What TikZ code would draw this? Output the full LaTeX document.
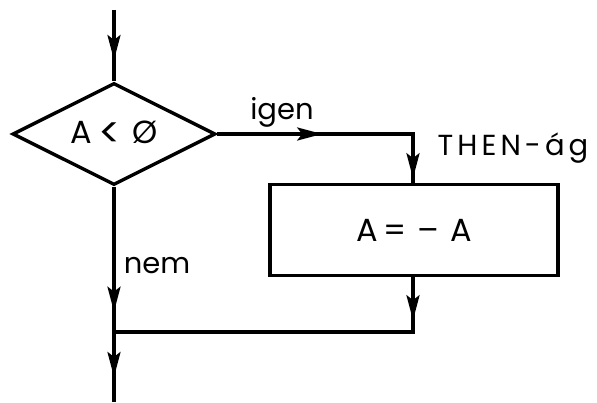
\documentclass[tikz,border=0pt]{standalone}
\usepackage{fontspec}
\setmainfont{Poppins}
\usetikzlibrary{shapes.geometric,arrows.meta,decorations.markings}
\begin{document}
\begin{tikzpicture}[x=1pt,y=-1pt,
  line width=3.4pt,
  every node/.style={font=\fontsize{29}{33}\selectfont},
  arr/.style={postaction={decorate,decoration={markings,mark=at position #1 with {\arrow{Stealth[length=25pt,width=13pt,inset=5pt]}}}}},
  cond/.style={draw,diamond,shape aspect=2,minimum width=203pt,minimum height=102pt,inner sep=0pt,font=\fontsize{32}{36}\selectfont},
  stepbox/.style={draw,rectangle,minimum width=288pt,minimum height=91pt,inner sep=0pt,font=\fontsize{32}{36}\selectfont},
  lbl/.style={inner sep=0pt}]
\useasboundingbox (0,0) rectangle (597,402);
\coordinate (start) at (114,10);
\node[cond] (d) at (114,134) {A\hspace{7pt}\raisebox{-4pt}{\scalebox{1.3}{<}}\hspace{11pt}Ø\hspace{12pt}};
\node[stepbox] (b) at (414,230) {A\hspace{6pt}=\hspace{11pt}–\hspace{11pt}A};
\coordinate (turn) at (413,134);
\coordinate (j) at (114,332);
\coordinate (stop) at (114,402);
\draw[arr=50pt] (start) -- (d.north);
\draw[arr=105pt,arr=240pt] (d.east) -- (turn) -- (turn |- b.north);
\draw[arr=43pt] (turn |- b.south) |- (j);
\draw[arr=125pt] (d.south) -- (j);
\draw[arr=45pt] (j) -- (stop);
\node[lbl] (ig) at (282,112) {igen};
\node[lbl,font=\fontsize{29}{33}\selectfont\addfontfeatures{LetterSpace=14}] (th) at (513,148) {THEN-ág};
\node[lbl] (nm) at (157,266) {nem};
\end{tikzpicture}
\end{document}
